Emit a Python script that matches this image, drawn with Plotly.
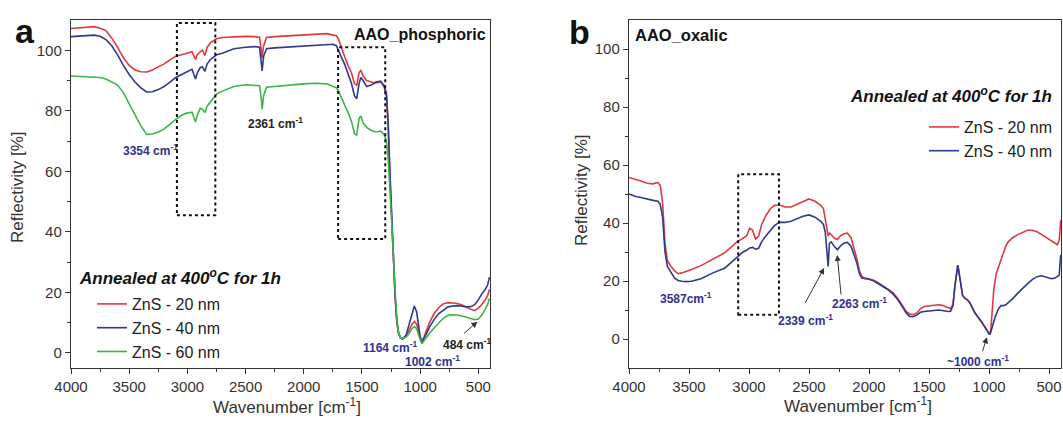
import plotly.graph_objects as go

# ---------------- Panel a data (AAO_phosphoric) ----------------
wn_a = [4000, 3900, 3800, 3750, 3700, 3650, 3600, 3550, 3500, 3450, 3400, 3350, 3300, 3250, 3200,
        3150, 3100, 3050, 3000, 2960, 2930, 2915, 2890, 2870, 2850, 2830, 2800, 2750, 2700, 2600,
        2500, 2420, 2380, 2365, 2358, 2345, 2320, 2250, 2100, 2000, 1900, 1800, 1750, 1720, 1700,
        1680, 1650, 1620, 1590, 1565, 1545, 1525, 1510, 1490, 1460, 1420, 1380, 1340, 1310, 1290,
        1275, 1260, 1245, 1230, 1215, 1200, 1185, 1170, 1150, 1120, 1095, 1070, 1050, 1030, 1010,
        995, 985, 970, 950, 920, 880, 840, 800, 760, 720, 680, 640, 600, 560, 530,
        500, 470, 440, 420, 405]

a_zns20 = [107.2, 107.5, 107.8, 107.3, 106.5, 104, 101, 97.5, 95, 93.5, 92.9, 92.8, 93.5, 94.5, 95.5,
           96.8, 98, 98.5, 99.2, 99.5, 97, 98.5, 99.5, 100, 98.3, 101, 102.5, 103.8, 104.2, 104.5,
           104.6, 104.5, 104.3, 100, 97.5, 101.5, 104.2, 104.5, 104.8, 105, 105.4, 105.5, 105, 104.8, 103.5,
           101, 98, 95, 92.5, 89, 88.5, 92.5, 93.5, 91.5, 90, 89.5, 89.2, 89.5, 88.5, 86,
           75, 58, 44, 30, 18, 10, 6.5, 5, 4.8, 5.5, 7.5, 9.5, 10.4, 9.5, 6.5,
           4.5, 4, 5, 7, 10, 13, 15, 16.2, 16.6, 16.5, 16.3, 15.8, 15, 14.3, 14,
           14.8, 16, 17.5, 19, 21]

a_zns40 = [104.5, 104.8, 105, 104.6, 103.5, 101.5, 98.5, 95, 92, 89.5, 87.6, 86.2, 86.3, 87, 88,
           89.5, 91, 92, 93, 93.7, 90.5, 92.5, 94.3, 94.5, 93, 95.5, 97, 98.5, 99, 100.5,
           101, 101.2, 101, 96, 93.2, 98, 100.5, 100.8, 101.2, 101.5, 101.7, 101.8, 102, 101.5, 100,
           98, 95.5, 92.5, 89, 85, 84, 89, 91, 90, 88, 88.5, 89.5, 89.8, 88, 85,
           76, 60, 45, 31, 18.5, 10.5, 6.5, 5, 4.5, 6, 9.5, 13.5, 15.5, 13.5, 7.5,
           4, 3.5, 4.5, 6, 8.5, 11, 13, 14.2, 15.2, 15.5, 15.6, 15.4, 15.2, 15.3, 16,
           17.5, 19.5, 21, 22.5, 25]

a_zns60 = [91.5, 91.4, 91.2, 91, 90.5, 89.5, 88.5, 86, 82.5, 78.5, 75, 72.2, 72.3, 73, 74,
           75.5, 77.2, 78.5, 79.3, 79.5, 76.3, 78.5, 80.8, 80.5, 79.4, 81.5, 83, 85.5, 86.5, 88,
           88.6, 88.5, 88.3, 84, 80.5, 85, 87.8, 88, 88.6, 88.9, 89.1, 88.9, 88, 87.6, 86.5,
           84.5, 82, 79.5, 76.5, 72.5, 72, 77.5, 78.3, 76, 74.5, 73.5, 73, 73.3, 72.2, 70,
           64, 54, 42, 29, 17.5, 10, 6.5, 5, 4.8, 5.2, 6.5, 8, 8.7, 8, 5.5,
           3.5, 3, 3.8, 5, 6.5, 8.2, 10, 11.5, 12.4, 12.6, 12.5, 12.2, 11.8, 11.3, 11,
           11.2, 12.5, 14.5, 16, 18]

# ---------------- Panel b data (AAO_oxalic) ----------------
wn_b = [4000, 3950, 3900, 3850, 3800, 3760, 3740, 3720, 3700, 3680, 3650, 3620, 3590, 3560, 3520,
        3480, 3400, 3300, 3200, 3100, 3050, 3020, 2995, 2970, 2945, 2920, 2895, 2860, 2820, 2790,
        2750, 2700, 2650, 2600, 2550, 2500, 2450, 2400, 2380, 2365, 2350, 2340, 2330, 2315, 2290,
        2263, 2240, 2210, 2180, 2150, 2120, 2100, 2080, 2060, 2030, 2000, 1960, 1920, 1880, 1840,
        1800, 1760, 1720, 1690, 1660, 1630, 1600, 1570, 1540, 1510, 1480, 1450, 1420, 1390, 1360,
        1340, 1320, 1300, 1285, 1270, 1260, 1250, 1235, 1220, 1200, 1180, 1160, 1140, 1120, 1100,
        1080, 1060, 1040, 1020, 1005, 995, 985, 975, 960, 940, 920, 900, 880, 860, 840,
        800, 760, 720, 680, 640, 600, 560, 520, 480, 450, 430, 415, 408, 402]

b_zns20 = [55.7, 55.2, 54.5, 53.7, 53.5, 54, 53, 47, 33, 27, 25, 23.5, 22.5, 22.8, 23.5,
           24, 25.3, 27.5, 29.8, 33.5, 34.8, 35.5, 38.2, 37.5, 34.5, 35.5, 39.4, 42.5, 45, 46,
           46.3, 45.5, 45.5, 46.5, 47.5, 48.3, 47.5, 46, 45, 41, 37, 35.5, 36.5, 36, 34.8,
           34.3, 35.5, 36.3, 36.5, 35, 30.5, 27.5, 23.5, 21.5, 21, 20.8, 20.3, 19.3, 18.3, 17.3,
           16, 14, 11.5, 9.5, 8.6, 8.4, 9, 10.5, 11.2, 11.3, 11.4, 11.5, 11.8, 11.6, 11,
           10.8, 10.5, 12, 18, 24, 25.5, 23, 18, 15, 14, 13.5, 12.5, 10.8, 9.2, 8,
           7, 5.8, 4.5, 3, 2, 1.5, 3, 10, 17, 22.5, 25, 27, 30, 32, 33.5,
           35, 36, 36.8, 37.5, 37.5, 37, 36, 35, 34, 33, 32.5, 34, 38, 41]

b_zns40 = [50, 49.2, 48.8, 48.2, 47.8, 47.5, 46.5, 42, 30, 25, 23, 21, 20.2, 19.9, 19.8,
           19.9, 20.8, 22.8, 24.5, 28.3, 30, 30.6, 31.4, 31.6, 31, 31.3, 33.5, 35.5, 37.5, 39,
           40.2, 40.2, 40.6, 41.5, 42.3, 42.8, 42, 40.5, 39.5, 37, 30, 25, 33, 33.5, 32,
           30.8, 32, 33, 33.3, 32, 28.5, 26, 22.5, 21, 20.8, 20.6, 20, 19, 18, 17,
           15.5, 13.5, 11, 9, 7.8, 7.7, 8.3, 9.2, 9.5, 9.6, 9.7, 10, 10, 9.8, 9.6,
           9.5, 9.6, 11.5, 18, 24, 25.5, 23, 18, 15, 14, 13.5, 12.5, 10.8, 9.2, 8,
           7, 5.8, 4.5, 3, 2, 1.5, 2.3, 4, 6, 8.5, 10.5, 11.5, 11.5, 11.8, 12.5,
           14, 15.8, 17.5, 19, 20.5, 21.5, 21.8, 21.3, 20.8, 21, 21.5, 22, 26, 29]

names = ["ZnS - 20 nm", "ZnS - 40 nm", "ZnS - 60 nm"]
colors = ["#e0393e", "#2e3a8f", "#3db34a"]

W, H = 1063, 421
FONT = "Liberation Sans, Arial, sans-serif"
AX = "#333333"
NAVY = "#2e3192"


def px(x):
    return x / W


def py(y):
    return 1 - y / H


fig = go.Figure()
for name, col, vals in zip(names, colors, [a_zns20, a_zns40, a_zns60]):
    fig.add_trace(go.Scatter(x=wn_a, y=vals, mode="lines", name=name,
                             line=dict(color=col, width=1.6), xaxis="x", yaxis="y",
                             legend="legend"))
for name, col, vals in zip(names[:2], colors[:2], [b_zns20, b_zns40]):
    fig.add_trace(go.Scatter(x=wn_b, y=vals, mode="lines", name=name,
                             line=dict(color=col, width=1.6), xaxis="x2", yaxis="y2",
                             legend="legend2"))

axis_common = dict(showline=True, mirror=True, linecolor=AX, linewidth=1.4,
                   ticks="outside", ticklen=5, tickwidth=1.2, tickcolor=AX,
                   showgrid=False, zeroline=False, automargin=False,
                   tickfont=dict(family=FONT, size=15, color="#333"))

fig.update_layout(
    width=W, height=H,
    margin=dict(l=0, r=0, t=0, b=0, pad=0, autoexpand=False),
    paper_bgcolor="white", plot_bgcolor="white",
    font=dict(family=FONT, color="#222"),
    xaxis=dict(domain=[px(71), px(490)], range=[4000, 400], anchor="y",
               tickvals=[4000, 3500, 3000, 2500, 2000, 1500, 1000, 500],
               minor=dict(tickvals=[3750, 3250, 2750, 2250, 1750, 1250, 750],
                          ticklen=3, tickcolor=AX, ticks="outside"),
               **axis_common),
    yaxis=dict(domain=[1 - 368 / H, 1 - 20 / H], range=[-5, 110], anchor="x",
               tickvals=[0, 20, 40, 60, 80, 100],
               minor=dict(tickvals=[10, 30, 50, 70, 90], ticklen=3, tickcolor=AX, ticks="outside"),
               **axis_common),
    xaxis2=dict(domain=[px(629), px(1061)], range=[4000, 400], anchor="y2",
                tickvals=[4000, 3500, 3000, 2500, 2000, 1500, 1000, 500],
                minor=dict(tickvals=[3750, 3250, 2750, 2250, 1750, 1250, 750],
                           ticklen=3, tickcolor=AX, ticks="outside"),
                **axis_common),
    yaxis2=dict(domain=[1 - 368 / H, 1 - 20 / H], range=[-10, 110], anchor="x2",
                tickvals=[0, 20, 40, 60, 80, 100],
                minor=dict(tickvals=[10, 30, 50, 70, 90], ticklen=3, tickcolor=AX, ticks="outside"),
                **axis_common),
    legend=dict(x=px(92), y=py(287), xanchor="left", yanchor="top",
                bgcolor="rgba(0,0,0,0)", borderwidth=0,
                font=dict(family=FONT, size=16, color="#222"), tracegroupgap=0),
    legend2=dict(x=px(1058), y=py(110), xanchor="right", yanchor="top",
                 bgcolor="rgba(0,0,0,0)", borderwidth=0,
                 font=dict(family=FONT, size=16, color="#222"), tracegroupgap=0),
    showlegend=True,
)

# dotted boxes
boxes = [("x", "y", 3090, 2760, 45.5, 109), ("x", "y", 1705, 1300, 37.6, 101),
         ("x2", "y2", 3090, 2750, 8.4, 56.8)]
for xr, yr, x0, x1, y0, y1 in boxes:
    fig.add_shape(type="rect", xref=xr, yref=yr, x0=x0, x1=x1, y0=y0, y1=y1,
                  line=dict(color="#111", width=2, dash="dot"), fillcolor="rgba(0,0,0,0)")

ann = []


def paper_text(text, x, y, size, color="#111", xa="center", ya="middle", angle=0):
    ann.append(dict(text=text, x=px(x), y=py(y), xref="paper", yref="paper",
                    xanchor=xa, yanchor=ya, textangle=angle,
                    font=dict(family=FONT, size=size, color=color), showarrow=False))


# panel letters
paper_text("<b>a</b>", 25, 31, 34)
paper_text("<b>b</b>", 579, 32, 34)
# panel titles
paper_text("<b>AAO_phosphoric</b>", 488, 34, 16, xa="right")
paper_text("<b>AAO_oxalic</b>", 633, 35, 16.5, xa="left")
# legend titles
paper_text("<b><i>Annealed at 400<sup>o</sup>C for 1h</i></b>", 77, 277, 17, xa="left")
paper_text("<b><i>Annealed at 400<sup>o</sup>C for 1h</i></b>", 1054, 95, 17, xa="right")
# axis titles
paper_text("Reflectivity [%]", 18, 188, 17, color="#333", angle=-90)
paper_text("Reflectivity [%]", 582, 191, 17, color="#333", angle=-90)
paper_text("Wavenumber [cm<sup>-1</sup>]", 287, 406, 17, color="#333")
paper_text("Wavenumber [cm<sup>-1</sup>]", 858, 405, 17, color="#333")

# peak labels
lab = dict(family=FONT, size=12)


def data_text(text, x, y, xr, yr, color):
    ann.append(dict(text=text, x=x, y=y, xref=xr, yref=yr, xanchor="center", yanchor="middle",
                    font=dict(color=color, **lab), showarrow=False))


def arrow(hx, hy, tx, ty, xr, yr):
    ann.append(dict(text="", x=hx, y=hy, ax=tx, ay=ty, xref=xr, yref=yr, axref=xr, ayref=yr,
                    showarrow=True, arrowhead=2, arrowsize=1.2, arrowwidth=1, arrowcolor="#333"))


data_text("<b>3354 cm<sup>-1</sup></b>", 3320, 67, "x", "y", NAVY)
data_text("<b>2361 cm<sup>-1</sup></b>", 2246, 76, "x", "y", "#222")
data_text("<b>1164 cm<sup>-1</sup></b>", 1257, 1.8, "x", "y", NAVY)
data_text("<b>1002 cm<sup>-1</sup></b>", 895, -2.8, "x", "y", NAVY)
data_text("<b>484 cm<sup>-1</sup></b>", 600, 2.8, "x", "y", "#222")
arrow(508, 10.3, 637, 6, "x", "y")

data_text("<b>3587cm<sup>-1</sup></b>", 3528, 14.2, "x2", "y2", NAVY)
data_text("<b>2339 cm<sup>-1</sup></b>", 2530, 6.6, "x2", "y2", NAVY)
data_text("<b>2263 cm<sup>-1</sup></b>", 2081, 12.4, "x2", "y2", NAVY)
data_text("<b>~1000 cm<sup>-1</sup></b>", 1091, -7.5, "x2", "y2", NAVY)
arrow(2374, 24.5, 2540, 11.8, "x2", "y2")
arrow(2265, 29, 2232, 14.8, "x2", "y2")
arrow(1017, 0.6, 1058, -4.7, "x2", "y2")

fig.update_layout(annotations=ann)
fig.write_html("out.html")
